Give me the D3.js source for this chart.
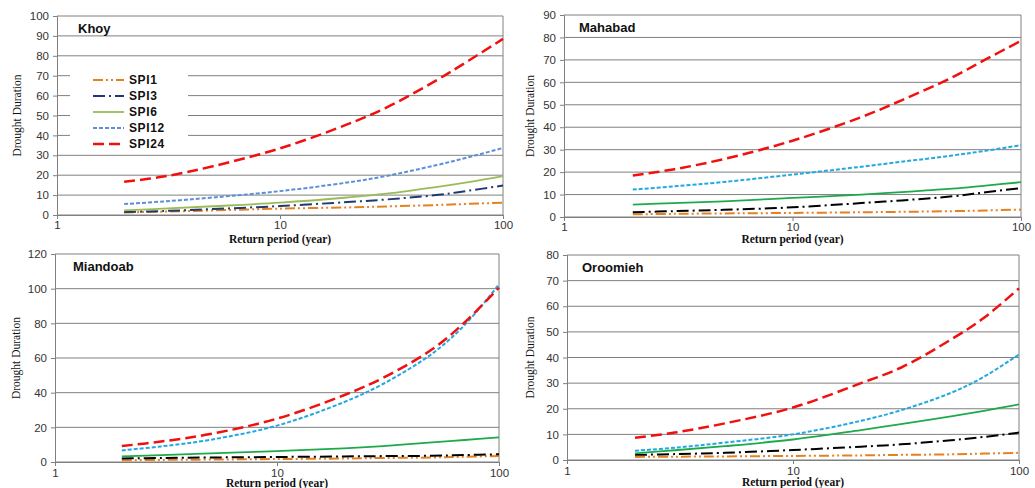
<!DOCTYPE html>
<html>
<head>
<meta charset="utf-8">
<script src="https://cdn.jsdelivr.net/npm/d3@7"></script>
<style>
    body { margin: 0; background: #fff; }
</style>
</head>
<body>
<svg id="chart" width="1035" height="488" font-family="Liberation Sans, Arial, sans-serif"></svg>
<script>
// values, return periods in years
const returnPeriods = [2, 3, 5, 10, 20, 30, 50, 70, 100]
const seriesNames = ["SPI1", "SPI3", "SPI6", "SPI12", "SPI24"]
const stations = ["Khoy", "Mahabad", "Miandoab", "Oroomieh"]
const xTicks = [1, 10, 100]
const yMaxes = [100, 90, 120, 80]
const ySteps = [10, 10, 20, 10]

// rows follow seriesNames
const khoyValues = [
    [1.3, 1.7, 2.3, 3.2, 3.8, 4.3, 5.0, 5.6, 6.2],
    [1.5, 2.0, 3.0, 4.5, 6.5, 7.8, 10.0, 12.2, 14.8],
    [2.3, 3.2, 4.4, 6.2, 8.8, 10.7, 14.0, 16.5, 19.5],
    [5.5, 6.8, 8.8, 12.0, 16.3, 19.6, 25.0, 29.0, 33.7],
    [16.7, 19.3, 24.5, 33.5, 45.5, 54.0, 67.5, 77.5, 88.5]
]
const mahabadValues = [
    [1.2, 1.4, 1.6, 1.8, 2.1, 2.3, 2.6, 2.9, 3.3],
    [2.1, 2.6, 3.2, 4.3, 6.2, 7.4, 9.2, 11.0, 12.9],
    [5.5, 6.2, 7.0, 8.5, 10.0, 11.1, 12.6, 14.0, 15.5],
    [12.2, 13.6, 15.6, 18.9, 22.4, 24.6, 27.4, 29.5, 32.0],
    [18.5, 21.2, 25.8, 34.0, 44.5, 52.0, 62.2, 70.2, 78.5]
]
const miandoabValues = [
    [1.0, 1.2, 1.4, 1.7, 2.0, 2.3, 2.6, 3.0, 3.5],
    [2.0, 2.3, 2.6, 2.9, 3.2, 3.4, 3.6, 4.0, 4.5],
    [3.3, 4.0, 5.0, 6.3, 7.9, 9.2, 11.3, 12.7, 14.2],
    [6.7, 9.0, 12.8, 21.0, 34.5, 45.0, 62.5, 79.0, 102.5],
    [9.2, 11.8, 16.1, 25.0, 38.5, 48.5, 65.0, 80.5, 100.6]
]
const oroomiehValues = [
    [1.2, 1.3, 1.4, 1.6, 1.8, 2.0, 2.2, 2.5, 2.8],
    [2.0, 2.3, 2.8, 3.9, 5.2, 6.1, 7.7, 9.0, 10.7],
    [2.6, 3.8, 5.4, 8.0, 11.7, 14.0, 17.0, 19.2, 21.7],
    [3.6, 4.8, 6.8, 10.0, 15.3, 19.4, 26.2, 32.5, 41.2],
    [8.7, 10.7, 14.3, 20.5, 30.0, 36.0, 47.0, 55.5, 67.0]
]
const stationValues = [khoyValues, mahabadValues, miandoabValues, oroomiehValues]

// plot boxes of the four panels
const panels = [
    { left: 57, right: 503, top: 16, bottom: 215, yTitleX: 17, xTitleY: 243, xLabelY: 229 },
    { left: 564, right: 1021, top: 15, bottom: 217, yTitleX: 530, xTitleY: 243, xLabelY: 231 },
    { left: 55, right: 499, top: 254, bottom: 462, yTitleX: 16, xTitleY: 487, xLabelY: 477 },
    { left: 567, right: 1019, top: 255, bottom: 460, yTitleX: 530, xTitleY: 486, xLabelY: 475 }
]

// line looks; first panel uses the lighter palette
const dashes = ["10,3,2,3,2,3", "12,4,2,4", null, "4,2", "11,5"]
const widths = [2, 2, 1.8, 2, 2.5]
const khoyColors = ["#E8801E", "#1F3A6E", "#9BBB59", "#5B8FD6", "#F01010"]
const otherColors = ["#E8801E", "#000000", "#1DAA4B", "#22A8E0", "#F01010"]

const serif = "Liberation Serif, Times New Roman, serif"
const svg = d3.select("#chart")

stations.forEach((station, i) => {
    const p = panels[i]
    const colors = i === 0 ? khoyColors : otherColors
    const g = svg.append("g").attr("class", "panel")

    const x = d3.scaleLog().domain([1, 100]).range([p.left, p.right])
    const y = d3.scaleLinear().domain([0, yMaxes[i]]).range([p.bottom, p.top])
    const yTicks = d3.range(0, yMaxes[i] + 0.1, ySteps[i])

    // gridlines
    g.append("g")
        .selectAll("line")
        .data(yTicks)
        .join("line")
        .attr("x1", p.left)
        .attr("x2", p.right)
        .attr("y1", d => y(d))
        .attr("y2", d => y(d))
        .attr("stroke", "#808080")
        .attr("stroke-width", 1)

    // right border
    g.append("line")
        .attr("x1", p.right).attr("x2", p.right)
        .attr("y1", p.top).attr("y2", p.bottom)
        .attr("stroke", "#808080")

    const yAxis = g.append("g")
        .attr("transform", `translate(${p.left},0)`)
        .call(d3.axisLeft(y).tickValues(yTicks).tickSize(4).tickPadding(4))
    yAxis.select(".domain").attr("stroke", "#808080")
    yAxis.selectAll(".tick line").attr("stroke", "#808080")
    yAxis.selectAll(".tick text")
        .attr("font-size", 11.5)
        .attr("font-family", "Liberation Sans, Arial, sans-serif")
        .attr("fill", "#333")

    const xAxis = g.append("g")
        .attr("transform", `translate(0,${p.bottom})`)
        .call(d3.axisBottom(x).tickValues(xTicks).tickFormat(d3.format("d")).tickSize(4).tickPadding(3))
    xAxis.select(".domain").attr("stroke", "#808080")
    xAxis.selectAll(".tick line").attr("stroke", "#808080")
    xAxis.selectAll(".tick text")
        .attr("font-size", 11.5)
        .attr("font-family", "Liberation Sans, Arial, sans-serif")
        .attr("fill", "#333")
        .attr("y", null)
        .attr("dy", null)
        .attr("transform", `translate(0,${p.xLabelY - p.bottom})`)

    // legend only in the first panel, drawn over the grid
    if (i === 0) {
        const lg = g.append("g").attr("class", "legend")
        lg.append("rect")
            .attr("x", 70).attr("y", 69)
            .attr("width", 118).attr("height", 83)
            .attr("fill", "#fff")
        seriesNames.forEach((name, k) => {
            const ly = 80 + k * 16
            lg.append("line")
                .attr("x1", 93).attr("x2", 124)
                .attr("y1", ly).attr("y2", ly)
                .attr("stroke", colors[k])
                .attr("stroke-width", widths[k])
                .attr("stroke-dasharray", dashes[k])
            lg.append("text")
                .attr("x", 129).attr("y", ly + 4)
                .attr("font-size", 12)
                .attr("font-weight", "bold")
                .attr("letter-spacing", 0.6)
                .attr("fill", "#111")
                .text(name)
        })
    }

    const line = d3.line()
        .x(d => x(d[0]))
        .y(d => y(d[1]))
        .curve(d3.curveCatmullRom.alpha(0.5))

    stationValues[i].forEach((vals, k) => {
        g.append("path")
            .datum(returnPeriods.map((rp, j) => [rp, vals[j]]))
            .attr("d", line)
            .attr("fill", "none")
            .attr("stroke", colors[k])
            .attr("stroke-width", widths[k])
            .attr("stroke-dasharray", dashes[k])
    })

    g.append("text")
        .attr("x", p.left + (i === 0 ? 21 : i === 2 ? 18 : 15))
        .attr("y", p.top + 17)
        .attr("font-size", 13)
        .attr("font-weight", "bold")
        .attr("fill", "#111")
        .text(station)

    g.append("text")
        .attr("transform", `translate(${p.yTitleX},${(p.top + p.bottom) / 2}) rotate(-90)`)
        .attr("text-anchor", "middle")
        .attr("dy", "0.35em")
        .attr("font-family", serif)
        .attr("font-size", 11.5)
        .attr("fill", "#111")
        .text("Drought Duration")

    g.append("text")
        .attr("x", (p.left + p.right) / 2)
        .attr("y", p.xTitleY)
        .attr("text-anchor", "middle")
        .attr("font-family", serif)
        .attr("font-size", 11.5)
        .attr("font-weight", "bold")
        .attr("fill", "#111")
        .text("Return period (year)")
})
</script>
</body>
</html>
